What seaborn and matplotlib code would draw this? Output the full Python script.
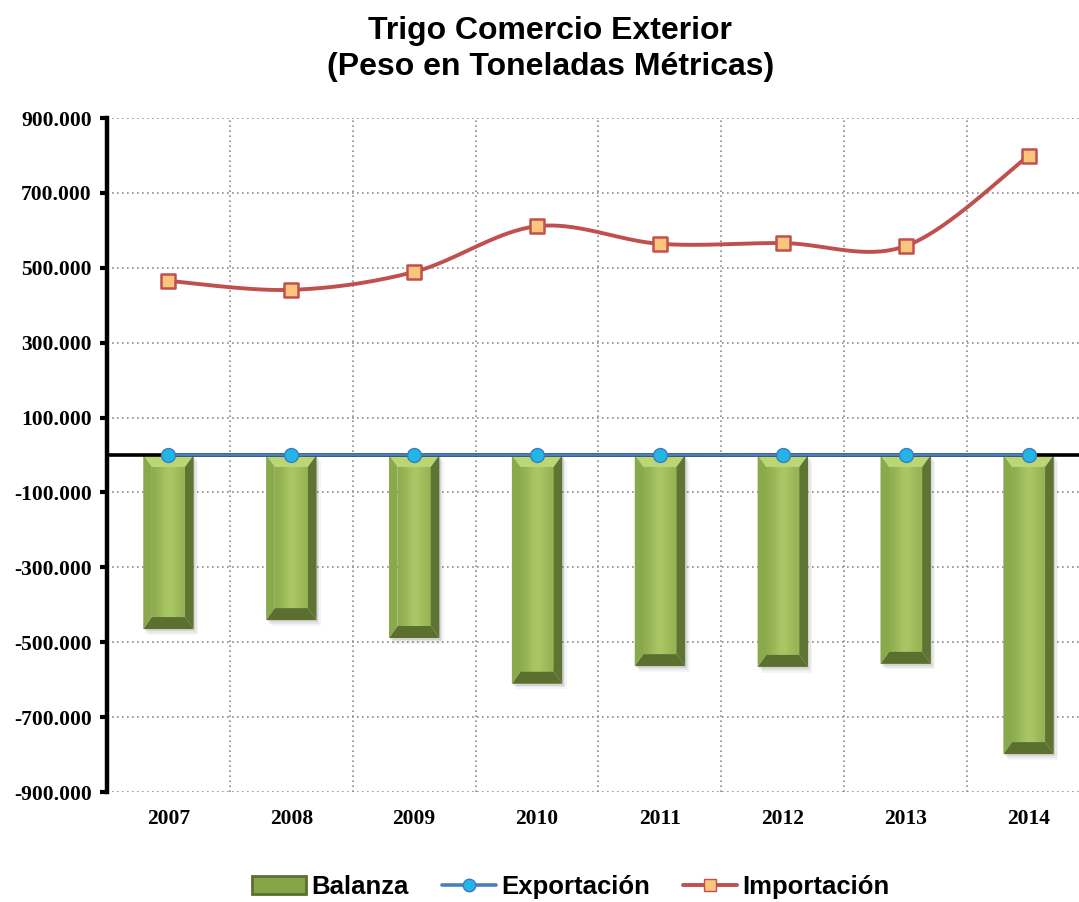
import numpy as np
import pandas as pd
import matplotlib
matplotlib.use("Agg")
import matplotlib.pyplot as plt
import seaborn as sns
from matplotlib.patches import Polygon, Rectangle, Patch
from matplotlib.lines import Line2D
from matplotlib.ticker import FuncFormatter, FixedLocator

# === Data (toneladas métricas) ===
years = ["2007", "2008", "2009", "2010", "2011", "2012", "2013", "2014"]
importacion = [465000, 441000, 489000, 611000, 564000, 566000, 558000, 799000]
exportacion = [200, 150, 300, 100, 250, 100, 200, 300]
balanza = [-464800, -440850, -488700, -610900, -563750, -565900, -557800, -798700]

df = pd.DataFrame({"year": years, "pos": np.arange(len(years)),
                   "Importación": importacion, "Exportación": exportacion,
                   "Balanza": balanza})

# === Style ===
sns.set_style("white")
plt.rcParams["font.family"] = ["Liberation Sans", "DejaVu Sans"]
plt.rcParams["text.color"] = "black"
plt.rcParams["xtick.color"] = "black"
plt.rcParams["ytick.color"] = "black"

fig = plt.figure(figsize=(10.79, 9.02), dpi=100)
ax = fig.add_axes([107 / 1079, 1 - 792 / 902, 1 - 107 / 1079, (792 - 118) / 902])

# === Bars (Balanza) ===
sns.barplot(data=df, x="year", y="Balanza", color="#9bbb59", width=0.41,
            saturation=1, ax=ax, zorder=3)

bx, by = 0.07, 32000
cmap = matplotlib.colors.LinearSegmentedColormap.from_list("g", ["#8fae50", "#aecb68"])
for p in list(ax.patches):
    x0, w, yb = p.get_x(), p.get_width(), p.get_height()
    # shadow
    for k, a in [(3, 0.10), (6, 0.08), (9, 0.05)]:
        ax.add_patch(Rectangle((x0 + 0.012 * k / 3, yb - 5000 * k / 3), w, -yb,
                               color="#404040", alpha=a, lw=0, zorder=2))
    p.set_visible(False)
    # face gradient
    grad = np.array([[0.0, 0.5, 1.0, 0.6, 0.2]])
    ax.imshow(grad, extent=[x0 + bx, x0 + w - bx, yb + by, -by], aspect="auto",
              cmap=cmap, interpolation="bicubic", zorder=3)
    ax.add_patch(Polygon([(x0, 0), (x0 + w, 0), (x0 + w - bx, -by), (x0 + bx, -by)],
                         color="#bad773", lw=0, zorder=4))
    ax.add_patch(Polygon([(x0, yb), (x0 + w, yb), (x0 + w - bx, yb + by), (x0 + bx, yb + by)],
                         color="#5b6f2f", lw=0, zorder=4))
    ax.add_patch(Polygon([(x0, 0), (x0 + bx, -by), (x0 + bx, yb + by), (x0, yb)],
                         color="#8aa94b", lw=0, zorder=4))
    ax.add_patch(Polygon([(x0 + w, 0), (x0 + w - bx, -by), (x0 + w - bx, yb + by), (x0 + w, yb)],
                         color="#5e7433", lw=0, zorder=4))

# === Zero line ===
ax.axhline(0, color="black", lw=2.6, zorder=5)

# === Exportación ===
sns.lineplot(data=df, x="pos", y="Exportación", color="#4a7ebb", lw=2.4,
             marker="o", markersize=10, markerfacecolor="#22b5e6",
             markeredgecolor="#3c7cc0", markeredgewidth=1, ax=ax, zorder=6)

# === Importación (smoothed line like Excel) ===
def smooth(xs, ys, n=40):
    pts = np.column_stack([xs, ys]).astype(float)
    out = []
    for i in range(len(pts) - 1):
        p0 = pts[i - 1] if i > 0 else pts[i]
        p1, p2 = pts[i], pts[i + 1]
        p3 = pts[i + 2] if i + 2 < len(pts) else pts[i + 1]
        c1 = p1 + (p2 - p0) / 6
        c2 = p2 - (p3 - p1) / 6
        t = np.linspace(0, 1, n)[:, None]
        seg = (1 - t) ** 3 * p1 + 3 * (1 - t) ** 2 * t * c1 + 3 * (1 - t) * t ** 2 * c2 + t ** 3 * p2
        out.append(seg)
    return np.vstack(out)

curve = smooth(df["pos"], df["Importación"])
ax.plot(curve[:, 0], curve[:, 1], color="#c0504d", lw=2.8, zorder=7)
sns.scatterplot(data=df, x="pos", y="Importación", marker="s", s=95,
                color="#fbc57e", edgecolor="#c0504d", linewidth=1.8, ax=ax, zorder=8)

# === Axes ===
ax.set_xlim(-0.5, 7.5 - 11 / 123)
ax.set_ylim(-900000, 900000)
yt = np.arange(-900000, 900001, 200000)
ax.yaxis.set_major_locator(FixedLocator(yt))
ax.yaxis.set_major_formatter(FuncFormatter(lambda v, _: f"{int(v):,}".replace(",", ".")))
ax.grid(False)
for v in yt:
    ax.axhline(v, color="#8c8c8c", lw=1.2, ls=(0, (1, 2)), zorder=1)
for v in np.arange(0.5, 7.5, 1):
    ax.axvline(v, color="#8c8c8c", lw=1.2, ls=(0, (1, 2)), zorder=1)

for s in ["top", "right", "bottom"]:
    ax.spines[s].set_visible(False)
ax.spines["left"].set_linewidth(3.2)
ax.spines["left"].set_color("black")
ax.tick_params(axis="y", direction="out", length=5, width=3, color="black", pad=6, left=True)
ax.tick_params(axis="x", length=0, pad=12)
ax.set_xlabel("")
ax.set_ylabel("")
for lab in ax.get_yticklabels() + ax.get_xticklabels():
    lab.set_fontfamily("Liberation Serif")
    lab.set_fontweight("bold")
    lab.set_fontsize(15.5)
    lab.set_color("black")

fig.text(0.51, 1 - 16 / 902, "Trigo Comercio Exterior\n(Peso en Toneladas Métricas)",
         ha="center", va="top", fontsize=23, fontweight="bold", linespacing=1.28)

# === Legend ===
handles = [
    Patch(facecolor="#86a448", edgecolor="#5b6f2f", lw=2),
    Line2D([], [], color="#4a7ebb", lw=2.6, marker="o", markersize=9,
           markerfacecolor="#22b5e6", markeredgecolor="#3c7cc0"),
    Line2D([], [], color="#c0504d", lw=2.8, marker="s", markersize=9,
           markerfacecolor="#fbc57e", markeredgecolor="#c0504d"),
]
fig.legend(handles, ["Balanza", "Exportación", "Importación"], loc="lower center",
           bbox_to_anchor=(0.529, -0.022), ncol=3, frameon=False, handlelength=2.1,
           handletextpad=0.2, columnspacing=1.3, prop={"weight": "bold", "size": 18.5})

fig.savefig("out.png", dpi=100)
